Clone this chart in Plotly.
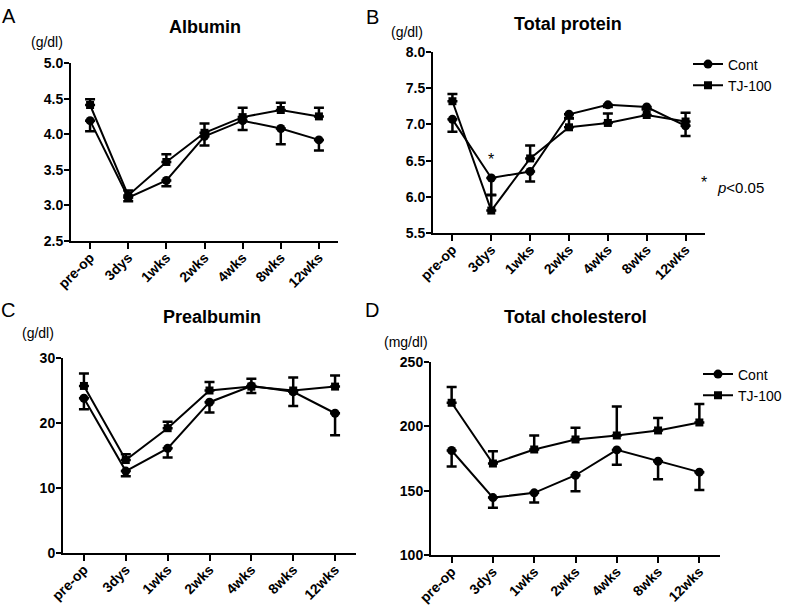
import plotly.graph_objects as go

categories = ["pre-op", "3dys", "1wks", "2wks", "4wks", "8wks", "12wks"]

alb_cont = [4.19, 3.11, 3.35, 3.97, 4.19, 4.08, 3.92]
alb_cont_err = [0.15, 0.05, 0.08, 0.13, 0.13, 0.22, 0.15]
alb_tj = [4.41, 3.14, 3.61, 4.02, 4.24, 4.34, 4.25]
alb_tj_err = [0.08, 0.07, 0.11, 0.13, 0.13, 0.10, 0.12]

tp_cont = [7.07, 6.26, 6.35, 7.14, 7.27, 7.24, 6.98]
tp_cont_err = [0.17, 0.23, 0.14, 0.05, 0.03, 0.03, 0.14]
tp_tj = [7.32, 5.81, 6.53, 6.96, 7.02, 7.13, 7.04]
tp_tj_err = [0.10, 0.21, 0.18, 0.12, 0.13, 0.08, 0.12]

pa_cont = [23.8, 12.6, 16.1, 23.2, 25.7, 24.8, 21.5]
pa_cont_err = [1.7, 0.8, 1.4, 1.6, 1.1, 2.2, 3.4]
pa_tj = [25.7, 14.3, 19.2, 25.0, 25.6, 25.0, 25.6]
pa_tj_err = [1.9, 0.9, 1.0, 1.3, 1.2, 2.0, 1.7]

tc_cont = [181.2, 144.6, 148.3, 162.0, 181.7, 172.9, 164.4]
tc_cont_err = [12.4, 7.8, 7.5, 12.4, 11.6, 14.0, 13.8]
tc_tj = [218.3, 171.1, 182.0, 189.8, 192.9, 196.8, 203.0]
tc_tj_err = [12.2, 9.6, 10.9, 9.1, 22.6, 9.6, 14.3]

titles = ["Albumin", "Total protein", "Prealbumin", "Total cholesterol"]
units = ["(g/dl)", "(g/dl)", "(g/dl)", "(mg/dl)"]
letters = ["A", "B", "C", "D"]
y_ranges = [[2.5, 5.0], [5.5, 8.0], [0, 30], [100, 250]]
y_dticks = [0.5, 0.5, 10, 50]
y_formats = [".1f", ".1f", "d", "d"]

W, H = 788, 605
FONT = "Liberation Sans, Arial, Helvetica, sans-serif"


def px(x):
    return x / W


def py(y):
    return 1 - y / H


# panel geometry in window pixels: (left, right, top, bottom)
boxes = [(71, 338, 63, 241), (433, 705, 52, 233), (63, 356, 358, 553), (431, 720, 362, 555)]

panels = [
    (alb_cont, alb_cont_err, alb_tj, alb_tj_err),
    (tp_cont, tp_cont_err, tp_tj, tp_tj_err),
    (pa_cont, pa_cont_err, pa_tj, pa_tj_err),
    (tc_cont, tc_cont_err, tc_tj, tc_tj_err),
]
legend_of = {1: "legend", 3: "legend2"}

fig = go.Figure()
for i, (c, ce, t, te) in enumerate(panels):
    ax = "" if i == 0 else str(i + 1)
    show = i in legend_of
    lg = legend_of.get(i, "legend")
    fig.add_trace(go.Scatter(
        x=categories, y=c, name="Cont", mode="lines+markers",
        xaxis="x" + ax, yaxis="y" + ax,
        line=dict(color="black", width=2),
        marker=dict(symbol="circle", size=9, color="black"),
        error_y=dict(type="data", symmetric=False, array=[0] * len(ce), arrayminus=ce,
                     color="black", thickness=2.5, width=5),
        showlegend=show, legend=lg,
    ))
    fig.add_trace(go.Scatter(
        x=categories, y=t, name="TJ-100", mode="lines+markers",
        xaxis="x" + ax, yaxis="y" + ax,
        line=dict(color="black", width=2),
        marker=dict(symbol="square", size=8, color="black"),
        error_y=dict(type="data", symmetric=False, array=te, arrayminus=[0] * len(te),
                     color="black", thickness=2.5, width=5),
        showlegend=show, legend=lg,
    ))

layout = dict(
    width=W, height=H, margin=dict(l=0, r=0, t=0, b=0, autoexpand=False),
    paper_bgcolor="white", plot_bgcolor="white",
    font=dict(family=FONT, color="black"),
)
for i, (l, r, t, b) in enumerate(boxes):
    ax = "" if i == 0 else str(i + 1)
    layout["xaxis" + ax] = dict(
        domain=[px(l), px(r)], anchor="y" + ax, type="category",
        range=[-0.5, 6.5], showline=True, linecolor="black", linewidth=2,
        ticks="outside", ticklen=6, tickwidth=2, tickcolor="black",
        tickangle=-45, showgrid=False, zeroline=False, automargin=False,
        ticklabelstandoff=-5,
        tickfont=dict(family=FONT, size=14, weight="bold", color="black"),
    )
    layout["yaxis" + ax] = dict(
        domain=[py(b), py(t)], anchor="x" + ax,
        range=y_ranges[i], dtick=y_dticks[i], tick0=y_ranges[i][0],
        tickformat=y_formats[i], showline=True, linecolor="black", linewidth=2,
        ticks="outside", ticklen=5, tickwidth=2, tickcolor="black",
        showgrid=False, zeroline=False, automargin=False,
        ticklabelstandoff=-2,
        tickfont=dict(family=FONT, size=14, weight="bold", color="black"),
    )

layout["legend"] = dict(x=px(688), y=py(48.5), xanchor="left", yanchor="top",
                        font=dict(family=FONT, size=14, color="black"),
                        bgcolor="rgba(0,0,0,0)", borderwidth=0, tracegroupgap=0)
layout["legend2"] = dict(x=px(698), y=py(358.5), xanchor="left", yanchor="top",
                         font=dict(family=FONT, size=14, color="black"),
                         bgcolor="rgba(0,0,0,0)", borderwidth=0, tracegroupgap=0)

ann = []
title_pos = [(205, 27), (568, 24), (212, 317), (575, 317)]
unit_pos = [(47, 42), (407, 32), (38, 333), (406, 342)]
letter_pos = [(9, 16), (372, 17), (8, 310), (372, 310)]
for i in range(4):
    ann.append(dict(text=titles[i], x=px(title_pos[i][0]), y=py(title_pos[i][1]),
                    xref="paper", yref="paper", showarrow=False, xanchor="center", yanchor="middle",
                    font=dict(family=FONT, size=18, weight="bold", color="black")))
    ann.append(dict(text=units[i], x=px(unit_pos[i][0]), y=py(unit_pos[i][1]),
                    xref="paper", yref="paper", showarrow=False, xanchor="center", yanchor="middle",
                    font=dict(family=FONT, size=14, color="black")))
    ann.append(dict(text=letters[i], x=px(letter_pos[i][0]), y=py(letter_pos[i][1]),
                    xref="paper", yref="paper", showarrow=False, xanchor="center", yanchor="middle",
                    font=dict(family=FONT, size=20, color="black")))
ann.append(dict(text="*", x="3dys", y=6.52, xref="x2", yref="y2", showarrow=False,
                xanchor="center", yanchor="middle", font=dict(family=FONT, size=16, color="black")))
ann.append(dict(text="*", x=px(704), y=py(182), xref="paper", yref="paper", showarrow=False,
                xanchor="center", yanchor="middle", font=dict(family=FONT, size=16, color="black")))
ann.append(dict(text="<i>p</i><0.05", x=px(715), y=py(187), xref="paper", yref="paper",
                showarrow=False, xanchor="left", yanchor="middle",
                font=dict(family=FONT, size=15, color="black")))
layout["annotations"] = ann

fig.update_layout(**layout)
fig.write_html("out.html",
               config={"displayModeBar": False},
               post_script="document.body.style.margin='0px';document.body.style.overflow='hidden';")
